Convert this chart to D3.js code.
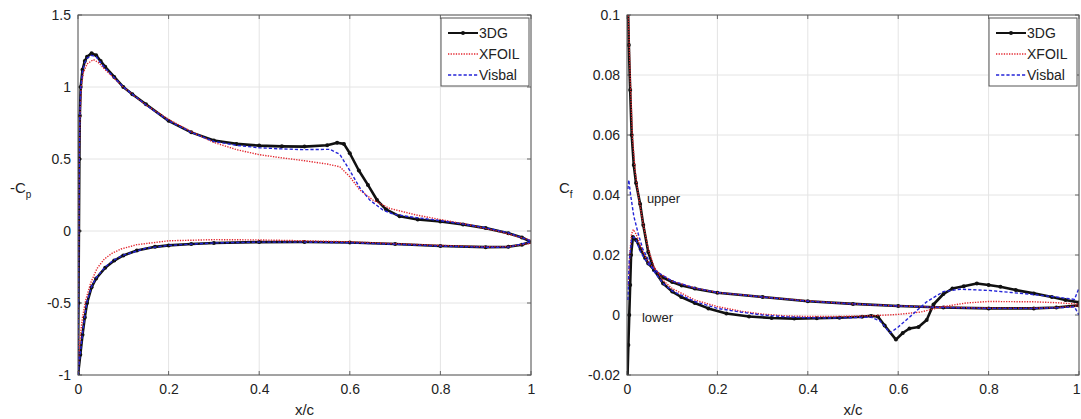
<!DOCTYPE html>
<html>
<head>
<meta charset="utf-8">
<script src="https://cdn.jsdelivr.net/npm/d3@7"></script>
<style>
    body { margin: 0; background: #fff; }
    svg text { font-family: "Liberation Sans", Arial, sans-serif; fill: #222; }
</style>
</head>
<body>
<div id="chart"></div>
<script>
// ticks
const xTicks = [0, 0.2, 0.4, 0.6, 0.8, 1];
const cpTicks = [-1, -0.5, 0, 0.5, 1, 1.5];
const cfTicks = [-0.02, 0, 0.02, 0.04, 0.06, 0.08, 0.1];
const seriesNames = ['3DG', 'XFOIL', 'Visbal'];

// -Cp, [x/c, value]
const cp3dgUpper = [[0, -1], [0.001, -0.5], [0.002, 0.0], [0.003, 0.5], [0.004, 0.8], [0.006, 1.0], [0.01, 1.12], [0.015, 1.18], [0.02, 1.21], [0.03, 1.234], [0.04, 1.22], [0.05, 1.18], [0.06, 1.14], [0.08, 1.07], [0.1, 1.0], [0.12, 0.95], [0.15, 0.88], [0.2, 0.765], [0.25, 0.685], [0.3, 0.628], [0.35, 0.605], [0.4, 0.593], [0.45, 0.588], [0.5, 0.586], [0.55, 0.596], [0.572, 0.613], [0.587, 0.605], [0.6, 0.54], [0.62, 0.42], [0.64, 0.32], [0.66, 0.215], [0.68, 0.15], [0.71, 0.102], [0.75, 0.08], [0.8, 0.066], [0.85, 0.046], [0.9, 0.02], [0.95, -0.015], [0.98, -0.045], [1.0, -0.075]];
const cp3dgLower = [[0, -1], [0.005, -0.86], [0.01, -0.72], [0.015, -0.6], [0.02, -0.5], [0.03, -0.39], [0.04, -0.33], [0.06, -0.255], [0.08, -0.205], [0.1, -0.17], [0.13, -0.135], [0.17, -0.11], [0.2, -0.1], [0.25, -0.09], [0.3, -0.083], [0.4, -0.077], [0.5, -0.076], [0.6, -0.08], [0.7, -0.09], [0.8, -0.104], [0.9, -0.112], [0.95, -0.11], [0.98, -0.095], [1.0, -0.075]];
const cpXfoilUpper = [[0, -1], [0.001, -0.3], [0.002, 0.3], [0.004, 0.75], [0.007, 1.0], [0.012, 1.1], [0.02, 1.16], [0.034, 1.19], [0.045, 1.17], [0.06, 1.12], [0.08, 1.06], [0.1, 1.0], [0.15, 0.875], [0.2, 0.775], [0.25, 0.69], [0.3, 0.615], [0.35, 0.565], [0.4, 0.53], [0.45, 0.508], [0.5, 0.488], [0.55, 0.465], [0.578, 0.446], [0.6, 0.377], [0.622, 0.285], [0.651, 0.215], [0.688, 0.157], [0.747, 0.111], [0.806, 0.076], [0.865, 0.042], [0.931, -0.004], [1.0, -0.065]];
const cpXfoilLower = [[0, -1], [0.003, -0.82], [0.006, -0.7], [0.01, -0.6], [0.017, -0.48], [0.028, -0.36], [0.042, -0.26], [0.058, -0.195], [0.075, -0.155], [0.095, -0.125], [0.13, -0.095], [0.2, -0.068], [0.3, -0.06], [0.4, -0.062], [0.5, -0.068], [0.6, -0.075], [0.7, -0.088], [0.8, -0.1], [0.9, -0.11], [0.95, -0.108], [1.0, -0.085]];
const cpVisbalUpper = [[0, -1], [0.002, 0.0], [0.003, 0.5], [0.004, 0.8], [0.006, 1.0], [0.01, 1.11], [0.015, 1.17], [0.02, 1.2], [0.03, 1.22], [0.04, 1.21], [0.05, 1.17], [0.06, 1.13], [0.08, 1.065], [0.1, 1.0], [0.12, 0.95], [0.15, 0.875], [0.2, 0.765], [0.25, 0.685], [0.3, 0.622], [0.35, 0.595], [0.4, 0.578], [0.45, 0.57], [0.5, 0.565], [0.556, 0.567], [0.578, 0.532], [0.6, 0.42], [0.622, 0.3], [0.644, 0.215], [0.673, 0.146], [0.695, 0.118], [0.732, 0.099], [0.8, 0.072], [0.85, 0.048], [0.9, 0.022], [0.95, -0.012], [1.0, -0.07]];
const cpVisbalLower = [[0, -1], [0.005, -0.85], [0.01, -0.71], [0.015, -0.59], [0.02, -0.49], [0.03, -0.385], [0.04, -0.325], [0.06, -0.25], [0.08, -0.2], [0.1, -0.168], [0.15, -0.12], [0.2, -0.1], [0.3, -0.083], [0.4, -0.077], [0.5, -0.077], [0.6, -0.082], [0.7, -0.092], [0.8, -0.105], [0.9, -0.113], [0.95, -0.112], [1.0, -0.075]];

// Cf, [x/c, value]
const cf3dgUpper = [[0.002, 0.104], [0.004, 0.09], [0.007, 0.075], [0.0104, 0.06], [0.015, 0.05], [0.02, 0.044], [0.029, 0.037], [0.036, 0.03], [0.047, 0.021], [0.06, 0.015], [0.08, 0.0105], [0.1, 0.0078], [0.12, 0.006], [0.15, 0.004], [0.18, 0.0022], [0.22, 0.0005], [0.27, -0.0005], [0.32, -0.001], [0.37, -0.0012], [0.42, -0.0011], [0.47, -0.0009], [0.52, -0.0006], [0.54, -0.0003], [0.555, -0.0005], [0.57, -0.0035], [0.595, -0.0082], [0.61, -0.006], [0.625, -0.0045], [0.645, -0.004], [0.663, -0.0017], [0.678, 0.0035], [0.7, 0.007], [0.72, 0.0088], [0.745, 0.0096], [0.774, 0.0105], [0.8, 0.01], [0.826, 0.0094], [0.86, 0.0083], [0.9, 0.0072], [0.94, 0.006], [0.97, 0.005], [1.0, 0.0042]];
const cf3dgLower = [[0.001, -0.021], [0.003, -0.01], [0.005, 0.0], [0.007, 0.01], [0.009, 0.02], [0.013, 0.026], [0.02, 0.025], [0.03, 0.022], [0.04, 0.019], [0.047, 0.0172], [0.06, 0.015], [0.08, 0.0125], [0.1, 0.011], [0.121, 0.0098], [0.15, 0.0088], [0.2, 0.0074], [0.3, 0.006], [0.4, 0.0046], [0.5, 0.0037], [0.6, 0.003], [0.7, 0.0025], [0.8, 0.0022], [0.9, 0.0022], [0.95, 0.0025], [1.0, 0.0032]];
const cfXfoilUpper = [[0.002, 0.105], [0.004, 0.095], [0.007, 0.08], [0.0118, 0.06], [0.018, 0.048], [0.025, 0.04], [0.035, 0.031], [0.047, 0.022], [0.06, 0.016], [0.08, 0.0115], [0.1, 0.0088], [0.15, 0.005], [0.2, 0.0028], [0.25, 0.0013], [0.3, 0.0003], [0.35, -0.0003], [0.4, -0.0005], [0.45, -0.0005], [0.5, -0.0004], [0.55, -0.0002], [0.6, 0.0002], [0.65, 0.001], [0.7, 0.0028], [0.75, 0.004], [0.8, 0.0045], [0.9, 0.0044], [0.95, 0.0041], [1.0, 0.0036]];
const cfXfoilLower = [[0.003, 0.01], [0.006, 0.02], [0.01, 0.027], [0.014, 0.0285], [0.02, 0.027], [0.03, 0.023], [0.04, 0.0195], [0.05, 0.017], [0.07, 0.014], [0.1, 0.0113], [0.15, 0.009], [0.2, 0.0075], [0.3, 0.006], [0.4, 0.0047], [0.5, 0.0037], [0.6, 0.003], [0.7, 0.0026], [0.8, 0.0023], [0.9, 0.0023], [0.95, 0.0025], [1.0, 0.003]];
const cfVisbalUpper = [[0.002, 0.042], [0.004, 0.045], [0.008, 0.04], [0.015, 0.033], [0.025, 0.027], [0.035, 0.022], [0.047, 0.0185], [0.06, 0.0145], [0.08, 0.0105], [0.1, 0.008], [0.15, 0.0045], [0.2, 0.0022], [0.25, 0.001], [0.3, 0.0], [0.35, -0.0006], [0.4, -0.0009], [0.45, -0.001], [0.5, -0.0009], [0.54, -0.0007], [0.56, -0.002], [0.582, -0.006], [0.6, -0.004], [0.626, -0.0006], [0.645, 0.002], [0.663, 0.0044], [0.7, 0.0078], [0.737, 0.0086], [0.8, 0.0082], [0.85, 0.0075], [0.9, 0.0068], [0.95, 0.006], [0.99, 0.0052], [1.0, 0.009]];
const cfVisbalLower = [[0.002, 0.005], [0.005, 0.018], [0.01, 0.025], [0.015, 0.026], [0.02, 0.025], [0.03, 0.021], [0.04, 0.0185], [0.05, 0.0165], [0.07, 0.014], [0.1, 0.0113], [0.15, 0.009], [0.2, 0.0075], [0.3, 0.006], [0.4, 0.0046], [0.5, 0.0037], [0.6, 0.003], [0.7, 0.0025], [0.8, 0.0022], [0.9, 0.0022], [0.95, 0.0024], [0.99, 0.0027], [1.0, 0.0]];

const cfNotes = [['upper', 0.044, 0.039], ['lower', 0.033, -0.0007]];

const styles = {
    '3DG': {color: '#111', width: 2.6, dash: null, dots: true},
    'XFOIL': {color: '#e3262e', width: 1.4, dash: '1.3,1.3', dots: false},
    'Visbal': {color: '#2424d8', width: 1.4, dash: '3.2,2', dots: false}
};

const svg = d3.select('#chart')
    .append('svg')
    .attr('width', 1081)
    .attr('height', 419);

function drawPanel(id, left, right, yDomain, yTicks, yLabel, ySub, series, notes) {
    const top = 15, bottom = 375;
    const x = d3.scaleLinear().domain([0, 1]).range([left, right]);
    const y = d3.scaleLinear().domain(yDomain).range([bottom, top]);
    const g = svg.append('g');

    // grid
    g.selectAll('.vgrid').data(xTicks).enter().append('line')
        .attr('x1', d => x(d)).attr('x2', d => x(d))
        .attr('y1', top).attr('y2', bottom)
        .style('stroke', '#e4e4e4');
    g.selectAll('.hgrid').data(yTicks).enter().append('line')
        .attr('x1', left).attr('x2', right)
        .attr('y1', d => y(d)).attr('y2', d => y(d))
        .style('stroke', '#e4e4e4');

    // small inward ticks
    xTicks.forEach(t => {
        g.append('line').attr('x1', x(t)).attr('x2', x(t)).attr('y1', bottom).attr('y2', bottom - 4).style('stroke', '#666');
        g.append('line').attr('x1', x(t)).attr('x2', x(t)).attr('y1', top).attr('y2', top + 4).style('stroke', '#666');
    });
    yTicks.forEach(t => {
        g.append('line').attr('x1', left).attr('x2', left + 4).attr('y1', y(t)).attr('y2', y(t)).style('stroke', '#666');
        g.append('line').attr('x1', right).attr('x2', right - 4).attr('y1', y(t)).attr('y2', y(t)).style('stroke', '#666');
    });

    const xAxis = d3.axisBottom(x).tickValues(xTicks).tickFormat(d => String(d)).tickSize(0).tickPadding(9);
    const yAxis = d3.axisLeft(y).tickValues(yTicks).tickFormat(d => String(d)).tickSize(0).tickPadding(7);
    const xa = g.append('g').attr('transform', `translate(0,${bottom})`).call(xAxis)
        .call(a => a.select('.domain').remove());
    xa.selectAll('text').style('font-size', '14px').style('fill', '#222');
    // keep the last label inside the window
    xa.selectAll('.tick text')
        .filter(d => x(d) + 5 > 1081)
        .style('text-anchor', 'end')
        .attr('x', d => 1080 - x(d));
    g.append('g').attr('transform', `translate(${left},0)`).call(yAxis)
        .call(a => a.select('.domain').remove())
        .selectAll('text').style('font-size', '14px').style('fill', '#222');

    // curves
    g.append('clipPath').attr('id', id)
        .append('rect').attr('x', left).attr('y', top).attr('width', right - left).attr('height', bottom - top);
    const plot = g.append('g').attr('clip-path', `url(#${id})`);
    const line = d3.line().x(d => x(d[0])).y(d => y(d[1]));

    series.forEach(s => {
        const st = styles[s.name];
        plot.append('path')
            .attr('d', line(s.data))
            .style('fill', 'none')
            .style('stroke', st.color)
            .style('stroke-width', st.width)
            .style('stroke-dasharray', st.dash)
            .style('stroke-linejoin', 'round');
        if (st.dots) {
            plot.selectAll(null).data(s.data).enter().append('circle')
                .attr('cx', d => x(d[0])).attr('cy', d => y(d[1]))
                .attr('r', 2)
                .style('fill', st.color);
        }
    });

    // frame
    g.append('rect')
        .attr('x', left).attr('y', top)
        .attr('width', right - left).attr('height', bottom - top)
        .style('fill', 'none').style('stroke', '#555').style('stroke-width', 1);

    // labels
    g.append('text')
        .attr('x', (left + right) / 2).attr('y', 415)
        .style('text-anchor', 'middle').style('font-size', '15px')
        .text('x/c');
    const yl = g.append('text')
        .attr('x', left - 68).attr('y', 193)
        .style('font-size', '15px');
    yl.append('tspan').text(yLabel);
    yl.append('tspan').attr('dy', 5).style('font-size', '10px').text(ySub);

    notes.forEach(n => {
        g.append('text')
            .attr('x', x(n[1])).attr('y', y(n[2]) + 5)
            .style('font-size', '13px')
            .text(n[0]);
    });

    // legend
    const lx = right - 90, ly = 18;
    const legend = g.append('g');
    legend.append('rect')
        .attr('x', lx).attr('y', ly).attr('width', 88).attr('height', 68)
        .style('fill', '#fff').style('stroke', '#555');
    seriesNames.forEach((name, i) => {
        const st = styles[name];
        const cy = ly + 15 + i * 21;
        legend.append('line')
            .attr('x1', lx + 7).attr('x2', lx + 37)
            .attr('y1', cy).attr('y2', cy)
            .style('stroke', st.color)
            .style('stroke-width', st.dots ? 2 : 1.4)
            .style('stroke-dasharray', st.dash);
        if (st.dots) {
            legend.append('circle').attr('cx', lx + 22).attr('cy', cy).attr('r', 2).style('fill', st.color);
        }
        legend.append('text')
            .attr('x', lx + 38).attr('y', cy + 5)
            .style('font-size', '14px')
            .text(name);
    });
}

drawPanel('clipCp', 78, 531, [-1, 1.5], cpTicks, '-C', 'p', [
    {name: '3DG', data: cp3dgUpper}, {name: '3DG', data: cp3dgLower},
    {name: 'XFOIL', data: cpXfoilUpper}, {name: 'XFOIL', data: cpXfoilLower},
    {name: 'Visbal', data: cpVisbalUpper}, {name: 'Visbal', data: cpVisbalLower}
], []);

drawPanel('clipCf', 627, 1079, [-0.02, 0.1], cfTicks, 'C', 'f', [
    {name: '3DG', data: cf3dgUpper}, {name: '3DG', data: cf3dgLower},
    {name: 'XFOIL', data: cfXfoilUpper}, {name: 'XFOIL', data: cfXfoilLower},
    {name: 'Visbal', data: cfVisbalUpper}, {name: 'Visbal', data: cfVisbalLower}
], cfNotes);
</script>
</body>
</html>
